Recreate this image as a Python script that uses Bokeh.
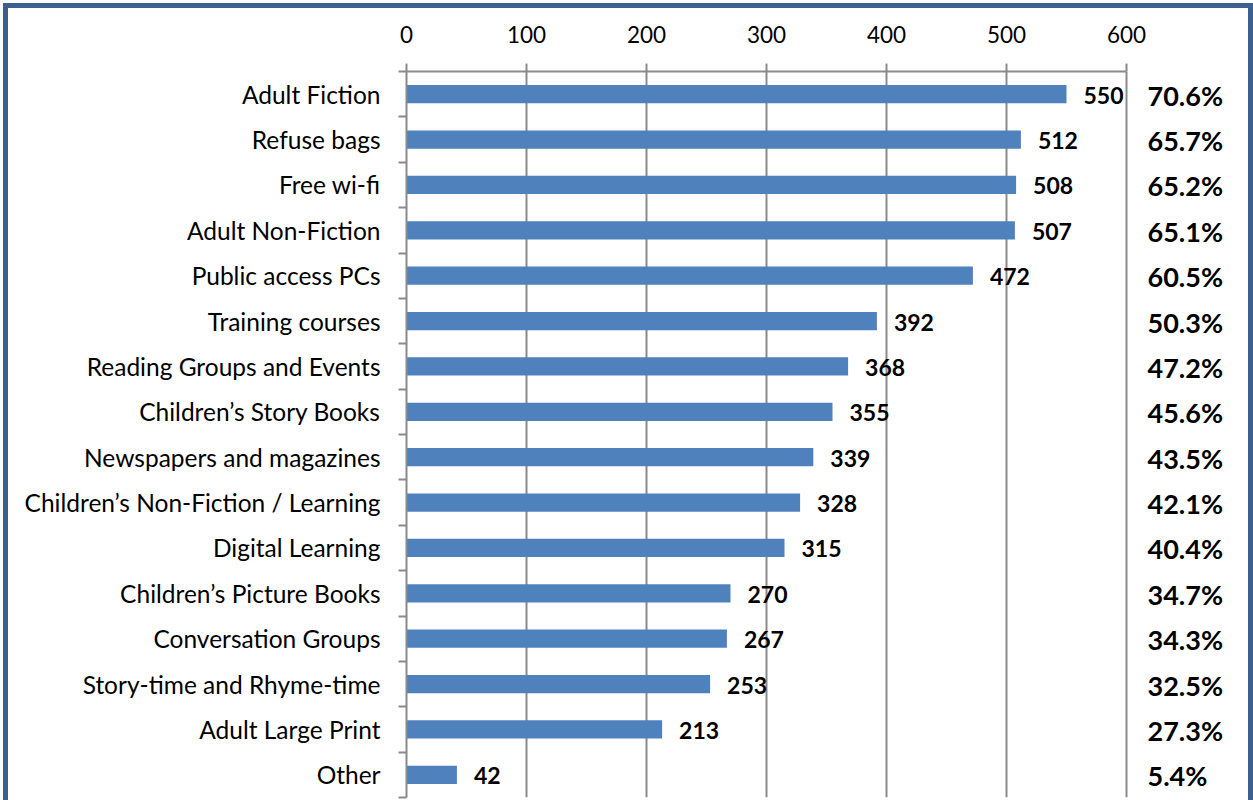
from bokeh.plotting import figure
from bokeh.models import Range1d, FixedTicker, ColumnDataSource
from bokeh.core.properties import value
from bokeh.embed import file_html
from bokeh.resources import INLINE

categories = ["Adult Fiction", "Refuse bags", "Free wi-fi", "Adult Non-Fiction",
              "Public access PCs", "Training courses", "Reading Groups and Events",
              "Children\u2019s Story Books", "Newspapers and magazines",
              "Children\u2019s Non-Fiction / Learning", "Digital Learning",
              "Children\u2019s Picture Books", "Conversation Groups",
              "Story-time and Rhyme-time", "Adult Large Print", "Other"]
counts = [550, 512, 508, 507, 472, 392, 368, 355, 339, 328, 315, 270, 267, 253, 213, 42]
percents = [70.6, 65.7, 65.2, 65.1, 60.5, 50.3, 47.2, 45.6, 43.5, 42.1, 40.4,
            34.7, 34.3, 32.5, 27.3, 5.4]
x_ticks = [0, 100, 200, 300, 400, 500, 600]

n = len(categories)
centers = [i + 0.5 for i in range(n)]
boundaries = list(range(n + 1))

src = ColumnDataSource(dict(
    y=centers,
    count=counts,
    count_str=[str(c) for c in counts],
    pct=["%.1f%%" % v for v in percents],
))

FONT = "Lato"
GRAY = "#8A8A8A"
FRAME = "#3B5F8E"

W, H = 1250, 797
p = figure(width=W, height=H,
           x_range=Range1d(0, (W - 398) / 1.2), y_range=Range1d(n, 0),
           x_axis_location="above", y_axis_location="left",
           output_backend="svg", toolbar_location=None,
           min_border_left=398, min_border_right=0,
           min_border_top=63, min_border_bottom=8)
p.outline_line_color = None
p.ygrid.grid_line_color = None
p.xgrid.grid_line_color = GRAY
p.xgrid.grid_line_width = 2
p.background_fill_color = "white"
p.border_fill_color = "white"
p.styles = {"margin-left": "3px", "margin-top": "3px",
            "border-left": "5px solid " + FRAME, "border-top": "5px solid " + FRAME,
            "border-right": "5px solid " + FRAME}

xa = p.xaxis[0]
xa.ticker = FixedTicker(ticks=x_ticks)
xa.bounds = (x_ticks[0], x_ticks[-1])
xa.major_tick_out = 8
xa.major_tick_in = 0
xa.minor_tick_out = 0
xa.minor_tick_in = 0
xa.axis_line_color = GRAY
xa.axis_line_width = 2
xa.major_tick_line_color = GRAY
xa.major_tick_line_width = 2
xa.major_label_text_font = FONT
xa.major_label_text_font_size = "22.5px"
xa.major_label_text_color = "black"
xa.major_label_standoff = 21

ya = p.yaxis[0]
ya.ticker = FixedTicker(ticks=centers, minor_ticks=boundaries)
ya.major_label_overrides = {c: cat for c, cat in zip(centers, categories)}
ya.major_tick_out = 8
ya.major_tick_in = 0
ya.major_tick_line_color = None
ya.minor_tick_out = 8
ya.minor_tick_in = 0
ya.minor_tick_line_color = GRAY
ya.minor_tick_line_width = 2
ya.axis_line_color = GRAY
ya.axis_line_width = 2
ya.major_label_text_font = FONT
ya.major_label_text_font_size = "24.5px"
ya.major_label_text_color = "black"
ya.major_label_standoff = 18

p.hbar(y="y", left=0, right="count", height=0.4, source=src,
       fill_color="#4F81BD", line_color=None)

p.text(x="count", y="y", text="count_str", source=src, x_offset=17, y_offset=1,
       text_align="left", text_baseline="middle", text_font=value(FONT),
       text_font_style="bold", text_font_size="23px", text_color="black")

p.text(x=x_ticks[-1], y="y", text="pct", source=src, x_offset=21, y_offset=1,
       text_align="left", text_baseline="middle", text_font=value(FONT),
       text_font_style="bold", text_font_size="27px", text_color="black")

open("out.html", "w").write(file_html(p, INLINE))
